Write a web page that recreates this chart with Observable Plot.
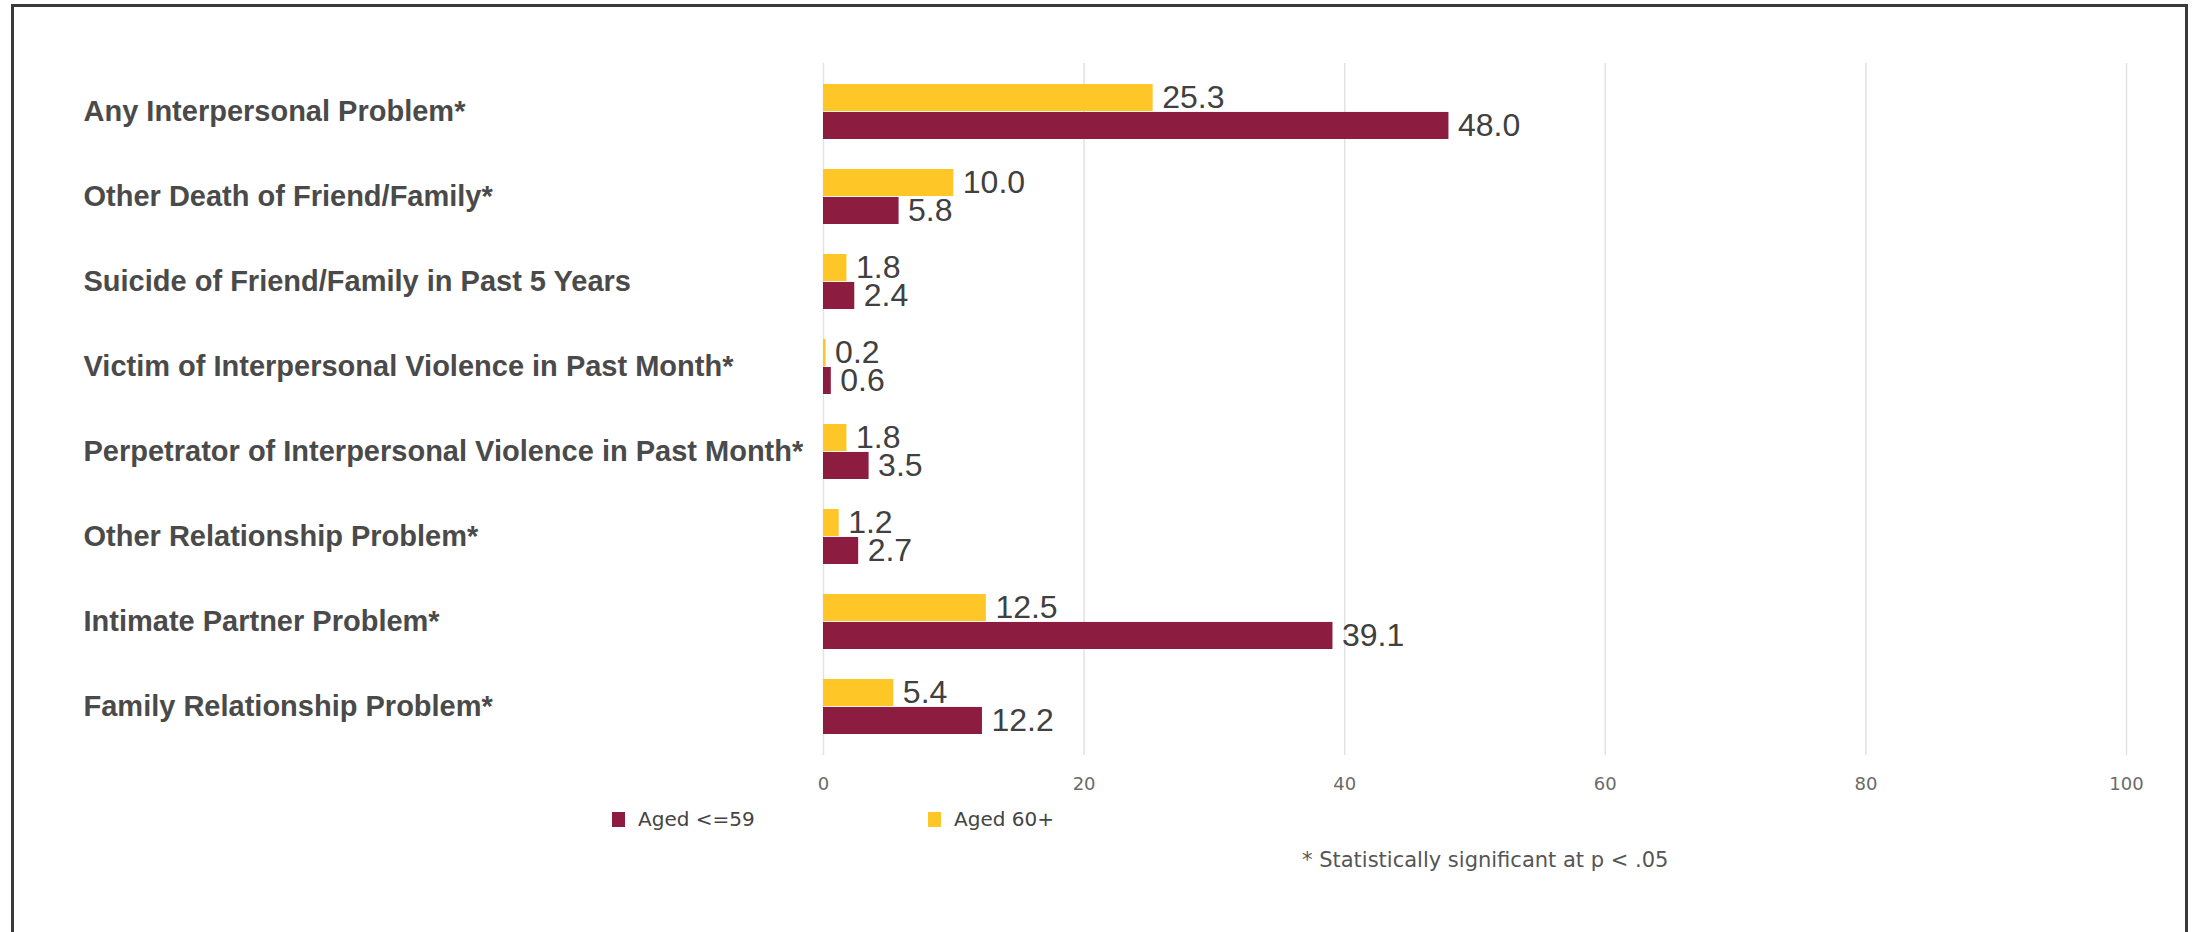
<!DOCTYPE html>
<html>
<head>
<meta charset="utf-8">
<script src="https://cdn.jsdelivr.net/npm/d3@7"></script>
<script src="https://cdn.jsdelivr.net/npm/@observablehq/plot@0.6"></script>
<style>
  html, body { margin: 0; padding: 0; background: #fff; }
  body { width: 2196px; height: 932px; position: relative; overflow: hidden; }
  #frame { position: absolute; left: 11px; top: 4px; width: 2177px; height: 1000px; border: 3px solid #3a3a3a; box-sizing: border-box; }
  #chart { position: absolute; left: 0; top: 0; }
  #chart svg [aria-label="y-axis tick label"] text { font-family: "Liberation Sans", Arial, sans-serif; font-weight: bold; font-size: 29px; fill: #4a4a4a; }
  #chart svg [aria-label="x-axis tick label"] text { font-family: "DejaVu Sans", sans-serif; font-size: 18px; fill: #6a6a6a; }
  #legend { position: absolute; left: 612px; top: 807px; display: flex; font-family: "DejaVu Sans", sans-serif; font-size: 20px; color: #444; line-height: 24px; }
  #legend .item { display: flex; align-items: center; }
  #legend .sw { width: 13px; height: 15px; margin-right: 13px; }
  #note { position: absolute; left: 1302px; top: 848px; font-family: "DejaVu Sans", sans-serif; font-size: 21px; color: #555; line-height: 24px; white-space: nowrap; }
</style>
</head>
<body>
<div id="frame"></div>
<div id="chart"></div>
<div id="legend"></div>
<div id="note"></div>
<script>
const categories = [
  "Any Interpersonal Problem*",
  "Other Death of Friend/Family*",
  "Suicide of Friend/Family in Past 5 Years",
  "Victim of Interpersonal Violence in Past Month*",
  "Perpetrator of Interpersonal Violence in Past Month*",
  "Other Relationship Problem*",
  "Intimate Partner Problem*",
  "Family Relationship Problem*"
];
const aged60plus = [25.3, 10.0, 1.8, 0.2, 1.8, 1.2, 12.5, 5.4];
const agedUpTo59 = [48.0, 5.8, 2.4, 0.6, 3.5, 2.7, 39.1, 12.2];
const seriesNames = ["Aged <=59", "Aged 60+"];
const seriesColors = ["#8C1D40", "#FFC627"];
const xTicks = [0, 20, 40, 60, 80, 100];
const footnote = "* Statistically significant at p < .05";

const older = categories.map((c, i) => ({category: c, value: aged60plus[i]}));
const younger = categories.map((c, i) => ({category: c, value: agedUpTo59[i]}));

const half = 27.95;
const valueFont = {fontSize: 32, fontFamily: "'Liberation Sans Narrow', 'Arial Narrow', 'Liberation Sans', sans-serif", fill: "#404040"};

const chart = Plot.plot({
  width: 2196,
  height: 800,
  marginTop: 63,
  marginBottom: 45,
  marginLeft: 823,
  marginRight: 70,
  style: {fontFamily: "'Liberation Sans', Arial, sans-serif", background: "transparent"},
  x: {domain: [0, 100]},
  y: {domain: categories, paddingInner: 0.35, paddingOuter: 0.2},
  marks: [
    Plot.gridX(xTicks, {stroke: "#e2e2e2", strokeOpacity: 1, strokeWidth: 1.5}),
    Plot.barX(older, {x: "value", y: "category", fill: seriesColors[1], insetBottom: half}),
    Plot.barX(younger, {x: "value", y: "category", fill: seriesColors[0], insetTop: half}),
    Plot.text(older, {x: "value", y: "category", text: d => d.value.toFixed(1), textAnchor: "start", dx: 9, dy: -half / 2, ...valueFont}),
    Plot.text(younger, {x: "value", y: "category", text: d => d.value.toFixed(1), textAnchor: "start", dx: 9, dy: half / 2, ...valueFont}),
    Plot.axisY({tickSize: 0, tickPadding: 0, textAnchor: "start", dx: -740, label: null, fontSize: 29, fontWeight: "bold", color: "#4a4a4a"}),
    Plot.axisX({ticks: xTicks, tickSize: 0, tickPadding: 22, label: null, fontSize: 18, color: "#6a6a6a"})
  ]
});
document.getElementById("chart").appendChild(chart);

const legend = document.getElementById("legend");
seriesNames.forEach((name, i) => {
  const item = document.createElement("div");
  item.className = "item";
  if (i === 0) item.style.width = "316px";
  const sw = document.createElement("span");
  sw.className = "sw";
  sw.style.background = seriesColors[i];
  const t = document.createElement("span");
  t.textContent = name;
  item.appendChild(sw);
  item.appendChild(t);
  legend.appendChild(item);
});
document.getElementById("note").textContent = footnote;
</script>
</body>
</html>
